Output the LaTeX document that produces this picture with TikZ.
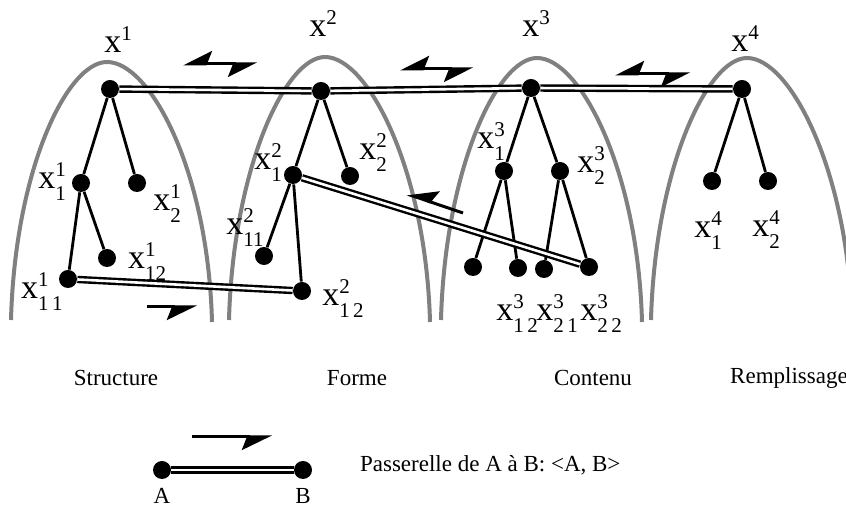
\documentclass[tikz,border=0pt]{standalone}
\usepackage{fontspec}
\setmainfont{Liberation Serif}
\usetikzlibrary{positioning,arrows.meta}
\definecolor{ArchGray}{RGB}{128,128,128}
\newcommand{\supfont}{\fontsize{10.5}{10.5}\selectfont}
\newcommand{\xlab}[2]{x\makebox[0pt][l]{\raisebox{6pt}{\supfont #1}}\raisebox{-6pt}{\supfont #2}}
\newcommand{\xtop}[1]{x\raisebox{6pt}{\supfont #1}}

\begin{document}
\begin{tikzpicture}[
      x=0.5pt, y=-0.5pt,
      every node/.style={font=\fontsize{11.5}{13}\selectfont},
      arch/.style={draw=ArchGray, line width=2pt},
      dot/.style={circle, fill=black, inner sep=0pt, minimum size=9pt},
      lbl/.style={inner sep=0pt, font=\fontsize{17}{17}\selectfont},
      edge/.style={line width=1.4pt},
      gate/.style={line width=1.2pt, double=white, double distance=1.3pt},
      half/.style={line width=1.5pt, -{Stealth[right, length=13.5pt, width=13pt, inset=2.5pt]}},
      twohalf/.style={line width=1.5pt, {Stealth[right, length=13pt, width=13pt, inset=2.5pt]}-{Stealth[right, length=13pt, width=13pt, inset=2.5pt]}}
  ]
    \useasboundingbox (0,0) rectangle (846,506);
    % arches
    \foreach \xc/\yt in {107/62, 325/57, 537/58, 747/58}
      \draw[arch] (\xc-96,320) .. controls (\xc-92,170) and (\xc-40,\yt) .. (\xc,\yt)
                  .. controls (\xc+43,\yt) and (\xc+101,170) .. (\xc+105,322);

    % Structure
    \node[dot] (r1) at (110,89) {};
    \node[dot] (a1) at (81,183) {};
    \node[dot] (a2) at (137,183) {};
    \node[dot] (a11) at (68,279) {};
    \node[dot] (a12) at (107,258) {};
    % Forme
    \node[dot] (r2) at (321,91) {};
    \node[dot] (b1) at (293,175) {};
    \node[dot] (b2) at (350,176) {};
    \node[dot] (b11) at (264,256) {};
    \node[dot] (b12) at (302,291) {};
    % Contenu
    \node[dot] (r3) at (531,88) {};
    \node[dot] (c1) at (504,171) {};
    \node[dot] (c2) at (560,171) {};
    \node[dot] (c11) at (473,267) {};
    \node[dot] (c12) at (518,268) {};
    \node[dot] (c21) at (544,269) {};
    \node[dot] (c22) at (589,267) {};
    % Remplissage
    \node[dot] (r4) at (742,89) {};
    \node[dot] (d1) at (712,181) {};
    \node[dot] (d2) at (768,181) {};

    \draw[edge] (r1) -- (a1);
    \draw[edge] (r1) -- (a2);
    \draw[edge] (a1) -- (a11);
    \draw[edge] (a1) -- (a12);
    \draw[edge] (r2) -- (b1);
    \draw[edge] (r2) -- (b2);
    \draw[edge] (b1) -- (b11);
    \draw[edge] (b1) -- (b12);
    \draw[edge] (r3) -- (c1);
    \draw[edge] (r3) -- (c2);
    \draw[edge] (c1) -- (c11);
    \draw[edge] (c1) -- (c12);
    \draw[edge] (c2) -- (c21);
    \draw[edge] (c2) -- (c22);
    \draw[edge] (r4) -- (d1);
    \draw[edge] (r4) -- (d2);

    % passerelles
    \draw[gate] (r1) -- (r2);
    \draw[gate] (r2) -- (r3);
    \draw[gate] (r3) -- (r4);
    \draw[gate] (a11) -- (b12);
    \draw[gate] (b1) -- (c22);

    \coordinate (h1a) at (183,64);  \coordinate (h1b) at (257,64);
    \coordinate (h2a) at (400,69);  \coordinate (h2b) at (473,69);
    \coordinate (h3a) at (615,74);  \coordinate (h3b) at (690,74);
    \coordinate (h4a) at (147,307); \coordinate (h4b) at (197,307);
    \coordinate (h5a) at (463,213); \coordinate (h5b) at (407,194);
    \draw[twohalf] (h1a) -- (h1b);
    \draw[twohalf] (h2a) -- (h2b);
    \draw[twohalf] (h3a) -- (h3b);
    \draw[half] (h4a) -- (h4b);
    \draw[half] (h5a) -- (h5b);

    % labels
    \node[lbl] (lx1) at (118,40) {\xtop{1}};
    \node[lbl] (lx2) at (323,24) {\xtop{2}};
    \node[lbl] (lx3) at (536,24) {\xtop{3}};
    \node[lbl] (lx4) at (745,39) {\xtop{4}};
    \node[lbl] (la1) at (52,182) {\xlab{1}{1}};
    \node[lbl] (la2) at (167,204) {\xlab{1}{2}};
    \node[lbl] (la12) at (147,262) {\xlab{1}{12}};
    \node[lbl] (la11) at (42,292) {\xlab{1}{1\,1}};
    \node[lbl] (lb1) at (268,163) {\xlab{2}{1}};
    \node[lbl] (lb2) at (373,153) {\xlab{2}{2}};
    \node[lbl] (lb11) at (245,228) {\xlab{2}{11}};
    \node[lbl] (lb12) at (343,299) {\xlab{2}{1\,2}};
    \node[lbl] (lc1) at (491,142) {\xlab{3}{1}};
    \node[lbl] (lc2) at (591,166) {\xlab{3}{2}};
    \node[lbl, anchor=west] (lc12) at (496,314) {\xlab{3}{1\,2}};
    \node[lbl, anchor=west] (lc21) at (536,314) {\xlab{3}{2\,1}};
    \node[lbl, anchor=west] (lc22) at (580,314) {\xlab{3}{2\,2}};
    \node[lbl] (ld1) at (708,231) {\xlab{4}{1}};
    \node[lbl] (ld2) at (766,230) {\xlab{4}{2}};

    % captions
    \node (cap1) at (116,378) {Structure};
    \node (cap2) at (357,378) {Forme};
    \node (cap3) at (593,378) {Contenu};
    \node (cap4) at (789,378) {Remplissage};

    % legend
    \node[dot] (pa) at (162,470) {};
    \node[dot] (pb) at (303,470) {};
    \draw[gate] (pa) -- (pb);
    \coordinate (hla) at (192,437); \coordinate (hlb) at (272,437);
    \draw[half] (hla) -- (hlb);
    \node[below=1pt of pa] (ta) {A};
    \node[below=1pt of pb] (tb) {B};
    \node[anchor=west] (note) at (353,465) {Passerelle de A à B: <A, B>};
  \end{tikzpicture}
\end{document}
